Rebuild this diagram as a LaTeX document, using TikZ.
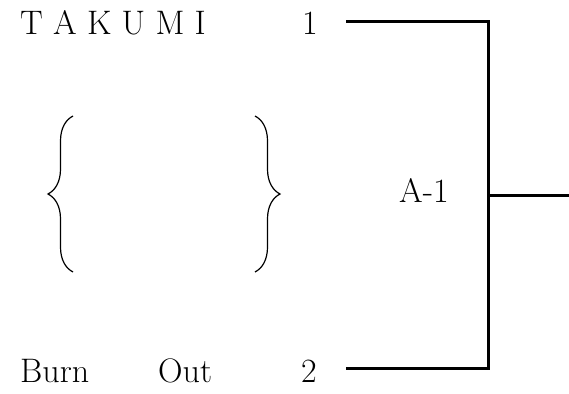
\documentclass[tikz,border=0pt]{standalone}
\usepackage{fontspec}
\usetikzlibrary{decorations.pathreplacing}
\tikzset{
	bracket/.style={line width=3pt},
	curly/.style={decorate, decoration={brace, amplitude=25pt}, line width=1.2pt},
	txt/.style={inner sep=0pt, anchor=base west, font=\fontsize{34}{40}\selectfont}
}

\begin{document}
\begin{tikzpicture}[x=1pt, y=-1pt]
			%%%%% START %%%%%
			\useasboundingbox (0, 0) rectangle (569, 393);
			
			\node[txt] (takumi) at (20, 35) {T A K U M I};
			\node[txt] (one) at (302, 35) {1};
			
			\node[txt] (burn) at (20, 382) {Burn};
			\node[txt] (out) at (158, 382) {Out};
			\node[txt] (two) at (301, 382) {2};
			
			\draw[curly] (73, 272) -- (73, 116);
			\draw[curly] (255, 116) -- (255, 272);
			
			\node[txt] (final) at (399, 202) {A-1};
			
			\coordinate (in1) at (346, 22);
			\coordinate (in2) at (346, 368);
			\coordinate (top) at (488, 22);
			\coordinate (bot) at (488, 368);
			\coordinate (mid) at (488, 195);
			\coordinate (win) at (569, 195);
			
			\draw[bracket] (in1) -- (top) -- (bot) -- (in2);
			\draw[bracket] (mid) -- (win);
			
			%%%%% END %%%%%
		\end{tikzpicture}
\end{document}
